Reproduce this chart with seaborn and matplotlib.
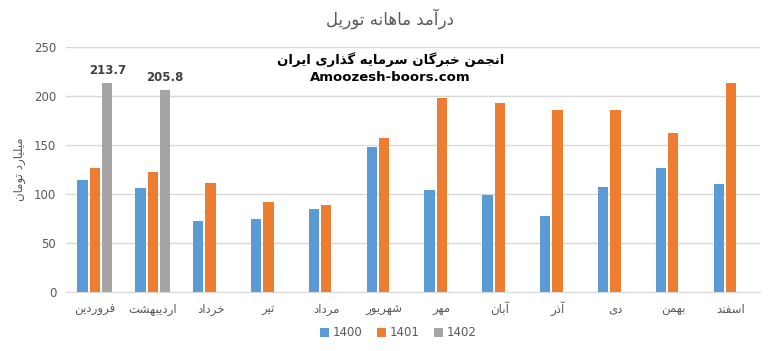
import pandas as pd
import numpy as np
import matplotlib
matplotlib.use('Agg')
import matplotlib.pyplot as plt
import seaborn as sns

# monthly revenue (billion toman)
months = ['فروردین', 'اردیبهشت', 'خرداد', 'تیر', 'مرداد', 'شهریور',
          'مهر', 'آبان', 'آذر', 'دی', 'بهمن', 'اسفند']
years = ['1400', '1401', '1402']
v1400 = [113.9, 105.7, 72.7, 74.8, 85.1, 147.9, 103.6, 98.5, 77.9, 106.7, 126.2, 109.8]
v1401 = [126.2, 122.1, 110.8, 92.3, 89.2, 157.1, 198.3, 193.1, 185.9, 185.9, 162.3, 213.7]
v1402 = [213.7, 205.8]

title = 'درآمد ماهانه توریل'
ylabel = 'میلیارد تومان'
wm1 = 'انجمن خبرگان سرمایه گذاری ایران'
wm2 = 'Amoozesh-boors.com'

colors = {'1400': '#5B9BD5', '1401': '#ED7D31', '1402': '#A5A5A5'}

# matplotlib has no arabic shaping, so pick presentation forms by hand
# (isolated, final, initial, medial)
FORMS = {
    'ا': ('\uFE8D', '\uFE8E', None, None),
    'آ': ('\uFE81', '\uFE82', None, None),
    'ب': ('\uFE8F', '\uFE90', '\uFE91', '\uFE92'),
    'پ': ('\uFB56', '\uFB57', '\uFB58', '\uFB59'),
    'ت': ('\uFE95', '\uFE96', '\uFE97', '\uFE98'),
    'ج': ('\uFE9D', '\uFE9E', '\uFE9F', '\uFEA0'),
    'خ': ('\uFEA5', '\uFEA6', '\uFEA7', '\uFEA8'),
    'د': ('\uFEA9', '\uFEAA', None, None),
    'ذ': ('\uFEAB', '\uFEAC', None, None),
    'ر': ('\uFEAD', '\uFEAE', None, None),
    'ز': ('\uFEAF', '\uFEB0', None, None),
    'س': ('\uFEB1', '\uFEB2', '\uFEB3', '\uFEB4'),
    'ش': ('\uFEB5', '\uFEB6', '\uFEB7', '\uFEB8'),
    'ف': ('\uFED1', '\uFED2', '\uFED3', '\uFED4'),
    'گ': ('\uFB92', '\uFB93', '\uFB94', '\uFB95'),
    'ک': ('\uFB8E', '\uFB8F', '\uFB90', '\uFB91'),
    'ل': ('\uFEDD', '\uFEDE', '\uFEDF', '\uFEE0'),
    'م': ('\uFEE1', '\uFEE2', '\uFEE3', '\uFEE4'),
    'ن': ('\uFEE5', '\uFEE6', '\uFEE7', '\uFEE8'),
    'ه': ('\uFEE9', '\uFEEA', '\uFEEB', '\uFEEC'),
    'و': ('\uFEED', '\uFEEE', None, None),
    'ی': ('\uFBFC', '\uFBFD', '\uFBFE', '\uFBFF'),
}

def fa(text):
    out = []
    for i, ch in enumerate(text):
        if ch not in FORMS:
            out.append(ch)
            continue
        prev = text[i-1] if i > 0 else ''
        nxt = text[i+1] if i + 1 < len(text) else ''
        jp = prev in FORMS and FORMS[prev][2] is not None
        jn = nxt in FORMS and FORMS[ch][2] is not None
        iso, fin, ini, med = FORMS[ch]
        if jp and jn:
            out.append(med)
        elif jp:
            out.append(fin)
        elif jn:
            out.append(ini)
        else:
            out.append(iso)
    return ''.join(reversed(out))

rows = []
for m, a, b in zip(months, v1400, v1401):
    rows.append((m, '1400', a))
    rows.append((m, '1401', b))
for m, c in zip(months, v1402):
    rows.append((m, '1402', c))
df = pd.DataFrame(rows, columns=['month', 'year', 'value'])

sns.set_style('white')
plt.rcParams['font.family'] = ['DejaVu Sans']

fig = plt.figure(figsize=(7.76, 3.51), dpi=100)
ax = fig.add_axes([66/776, 59/351, 694/776, 245/351])

W = 0.64
sns.barplot(data=df, x='month', y='value', hue='year', order=months,
            hue_order=years, palette=colors, width=W, gap=0.17,
            saturation=1, linewidth=0, ax=ax, legend=True)

ax.set_ylim(0, 250)
ax.set_yticks(range(0, 251, 50))
ax.yaxis.grid(True, color='#D9D9D9', linewidth=1)
ax.set_axisbelow(True)
for s in ['top', 'right', 'left']:
    ax.spines[s].set_visible(False)
ax.spines['bottom'].set_color('#D9D9D9')
ax.tick_params(axis='both', length=0, colors='#595959', labelsize=8.5)
ax.tick_params(axis='x', pad=15)
ax.tick_params(axis='y', pad=7)
ax.set_xticks(range(len(months)))
ax.set_xticklabels([fa(m) for m in months])
for lab in ax.get_xticklabels():
    lab.set_verticalalignment('baseline')
ax.set_xlabel('')
ax.set_ylabel(fa(ylabel), color='#595959', fontsize=8.5, labelpad=6)

# data labels for 1402
for i, c in enumerate(v1402):
    ax.text(i + W/3, c + 6, f'{c:.1f}', ha='center', va='bottom',
            fontsize=8.5, fontweight='bold', color='#404040')

fig.text(0.503, 0.948, fa(title), ha='center', va='center',
         fontsize=12, color='#595959')
fig.text(0.503, 0.830, fa(wm1), ha='center', va='center',
         fontsize=9.5, fontweight='bold', color='black')
fig.text(0.503, 0.780, wm2, ha='center', va='center',
         fontsize=9.5, fontweight='bold', color='black')

ax.legend(loc='center', bbox_to_anchor=(398/776, 18/351),
          bbox_transform=fig.transFigure, ncol=3, frameon=False,
          handlelength=0.8, handleheight=0.8, handletextpad=0.3,
          columnspacing=1.2, fontsize=8.5, labelcolor='#595959')

fig.savefig('out.png', dpi=100)
